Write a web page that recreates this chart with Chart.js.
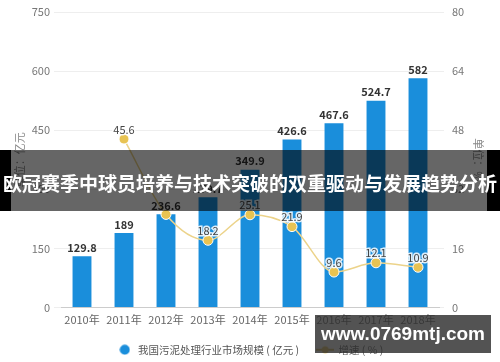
<!DOCTYPE html>
<html>
<head>
<meta charset="utf-8">
<script src="https://cdn.jsdelivr.net/npm/chart.js@4.4.1/dist/chart.umd.min.js"></script>
<style>
    html, body { margin: 0; padding: 0; background: #fff; }
    #okvir { position: relative; width: 500px; height: 362px; overflow: hidden; }
    #grafik { position: absolute; left: 0; top: 0; }
    #traka {
        position: absolute; left: 0; top: 150px; width: 500px; height: 61px;
        background: rgba(0, 0, 0, 0.6);
    }
    .crno { position: absolute; top: 0; height: 61px; background: #000; }
    .lijevo { left: 0; width: 11px; }
    .desno { left: 487px; width: 13px; }
    #naslov {
        position: absolute; left: 0; top: 21px; width: 500px; text-align: center;
        color: #fff; font: bold 19px "Noto Sans CJK SC", sans-serif; line-height: 24px;
        white-space: nowrap;
    }
    #vodeni {
        position: absolute; left: 315px; top: 315px; width: 176px; height: 38px;
        background: rgba(45, 45, 45, 0.82); color: #fff;
        font: bold 19px "Liberation Sans", Arial, sans-serif; line-height: 38px; text-align: center;
    }
</style>
</head>
<body>
<div id="okvir">
    <canvas id="grafik" width="500" height="362"></canvas>
    <div id="traka">
        <div class="crno lijevo"></div>
        <div class="crno desno"></div>
        <div id="naslov">欧冠赛季中球员培养与技术突破的双重驱动与发展趋势分析</div>
    </div>
    <div id="vodeni">www.0769mtj.com</div>
</div>
<script>
// Podaci sa slike
const godine = ["2010年", "2011年", "2012年", "2013年", "2014年", "2015年", "2016年", "2017年", "2018年"];
const velicinaTrzista = [129.8, 189, 236.6, 279.7, 349.9, 426.6, 467.6, 524.7, 582];
const stopaRasta = [null, 45.6, 25.2, 18.2, 25.1, 21.9, 9.6, 12.1, 10.9];
const lijeviTicks = [0, 150, 300, 450, 600, 750];
const desniTicks = [0, 16, 32, 48, 64, 80];
const nazivStupci = "我国污泥处理行业市场规模 ( 亿元 )";
const nazivLinija = "增速 ( % )";

const plava = "#1a8edb";
const zuta = "#ecd38a";
const zutaTacka = "#e8c352";
const fontOsnovni = "'Noto Sans CJK SC', 'Noto Sans', sans-serif";

// Markeri za legendu
function napraviKrug(boja) {
    const c = document.createElement("canvas");
    c.width = 11; c.height = 11;
    const g = c.getContext("2d");
    g.fillStyle = boja;
    g.beginPath();
    g.arc(5.5, 5.5, 5, 0, Math.PI * 2);
    g.fill();
    return c;
}

function napraviLiniju(boja, bojaTacke) {
    const c = document.createElement("canvas");
    c.width = 18; c.height = 10;
    const g = c.getContext("2d");
    g.strokeStyle = boja;
    g.lineWidth = 2;
    g.beginPath();
    g.moveTo(0, 5); g.lineTo(18, 5);
    g.stroke();
    g.fillStyle = bojaTacke;
    g.beginPath();
    g.arc(9, 5, 3.5, 0, Math.PI * 2);
    g.fill();
    return c;
}

// Vrijednosti iznad stupaca i tacaka (oznaka linije se preskace ako se preklapa sa oznakom stupca)
const oznakeVrijednosti = {
    id: "oznakeVrijednosti",
    afterDatasetsDraw(chart) {
        const ctx = chart.ctx;
        ctx.save();
        ctx.textAlign = "center";
        ctx.textBaseline = "bottom";

        const zauzeto = [];
        ctx.font = "bold 11px " + fontOsnovni;
        ctx.fillStyle = "#333";
        chart.getDatasetMeta(0).data.forEach((el, i) => {
            const tekst = String(velicinaTrzista[i]);
            const w = ctx.measureText(tekst).width;
            ctx.fillText(tekst, el.x, el.y - 3);
            zauzeto.push({ x1: el.x - w / 2, x2: el.x + w / 2, y1: el.y - 16, y2: el.y - 3 });
        });

        ctx.font = "11px " + fontOsnovni;
        ctx.lineWidth = 3;
        ctx.strokeStyle = "rgba(255,255,255,0.85)";
        ctx.fillStyle = "#444";
        chart.getDatasetMeta(1).data.forEach((el, i) => {
            if (stopaRasta[i] === null) return;
            const tekst = String(stopaRasta[i]);
            const w = ctx.measureText(tekst).width;
            const kutija = { x1: el.x - w / 2, x2: el.x + w / 2, y1: el.y - 17, y2: el.y - 4 };
            const preklapa = zauzeto.some(z => kutija.x1 < z.x2 && kutija.x2 > z.x1 && kutija.y1 < z.y2 && kutija.y2 > z.y1);
            if (preklapa) return;
            ctx.strokeText(tekst, el.x, el.y - 4);
            ctx.fillText(tekst, el.x, el.y - 4);
        });
        ctx.restore();
    }
};

new Chart(document.getElementById("grafik").getContext("2d"), {
    data: {
        labels: godine,
        datasets: [
            {
                type: "bar",
                label: nazivStupci,
                data: velicinaTrzista,
                backgroundColor: plava,
                yAxisID: "y",
                order: 2,
                barPercentage: 0.5,
                categoryPercentage: 0.9
            },
            {
                type: "line",
                label: nazivLinija,
                data: stopaRasta,
                borderColor: zuta,
                borderWidth: 1.5,
                backgroundColor: zutaTacka,
                pointBackgroundColor: zutaTacka,
                pointBorderColor: "#fff",
                pointBorderWidth: 1,
                pointRadius: 5,
                tension: 0.4,
                cubicInterpolationMode: "monotone",
                yAxisID: "y1",
                order: 1
            }
        ]
    },
    options: {
        responsive: false,
        animation: false,
        devicePixelRatio: 1,
        layout: { padding: { top: 0, left: 0, right: 0, bottom: -3 } },
        plugins: {
            tooltip: { enabled: false },
            title: { display: false },
            legend: {
                position: "bottom",
                labels: {
                    usePointStyle: true,
                    pointStyleWidth: 16,
                    padding: 18,
                    color: "#555",
                    font: { size: 10.5, family: fontOsnovni },
                    generateLabels: () => [
                        { text: nazivStupci, pointStyle: napraviKrug(plava), fillStyle: plava, strokeStyle: plava, lineWidth: 0, hidden: false, datasetIndex: 0, fontColor: "#555" },
                        { text: nazivLinija, pointStyle: napraviLiniju("#d8b954", zutaTacka), fillStyle: zutaTacka, strokeStyle: zutaTacka, lineWidth: 0, hidden: false, datasetIndex: 1, fontColor: "#555" }
                    ]
                }
            }
        },
        scales: {
            x: {
                grid: { display: false, drawTicks: false },
                border: { display: true, color: "#ccc" },
                ticks: { color: "#666", font: { size: 11, family: fontOsnovni }, padding: 6 },
                afterFit: s => { s.height = 19; }
            },
            y: {
                position: "left",
                min: 0,
                max: 750,
                afterBuildTicks: s => { s.ticks = lijeviTicks.map(v => ({ value: v })); },
                grid: { color: "#eeeeee", tickLength: 7, tickColor: "#eeeeee" },
                border: { display: false },
                ticks: { color: "#777", font: { size: 11, family: fontOsnovni }, padding: 4 },
                title: { display: true, text: "单位：亿元", color: "#888", font: { size: 11, family: fontOsnovni }, padding: { top: 13, bottom: 0 } },
                afterFit: s => { s.width = 61; s.paddingTop = 12; }
            },
            y1: {
                position: "right",
                min: 0,
                max: 80,
                afterBuildTicks: s => { s.ticks = desniTicks.map(v => ({ value: v })); },
                grid: { drawOnChartArea: false, color: "#eeeeee", tickLength: 5, tickColor: "#eeeeee" },
                border: { display: false },
                ticks: { color: "#777", font: { size: 11, family: fontOsnovni }, padding: 8 },
                title: { display: true, text: "单位：%", color: "#888", font: { size: 11, family: fontOsnovni }, padding: { top: 15, bottom: 0 } },
                afterFit: s => { s.width = 61; s.paddingTop = 12; }
            }
        }
    },
    plugins: [oznakeVrijednosti]
});
</script>
</body>
</html>
